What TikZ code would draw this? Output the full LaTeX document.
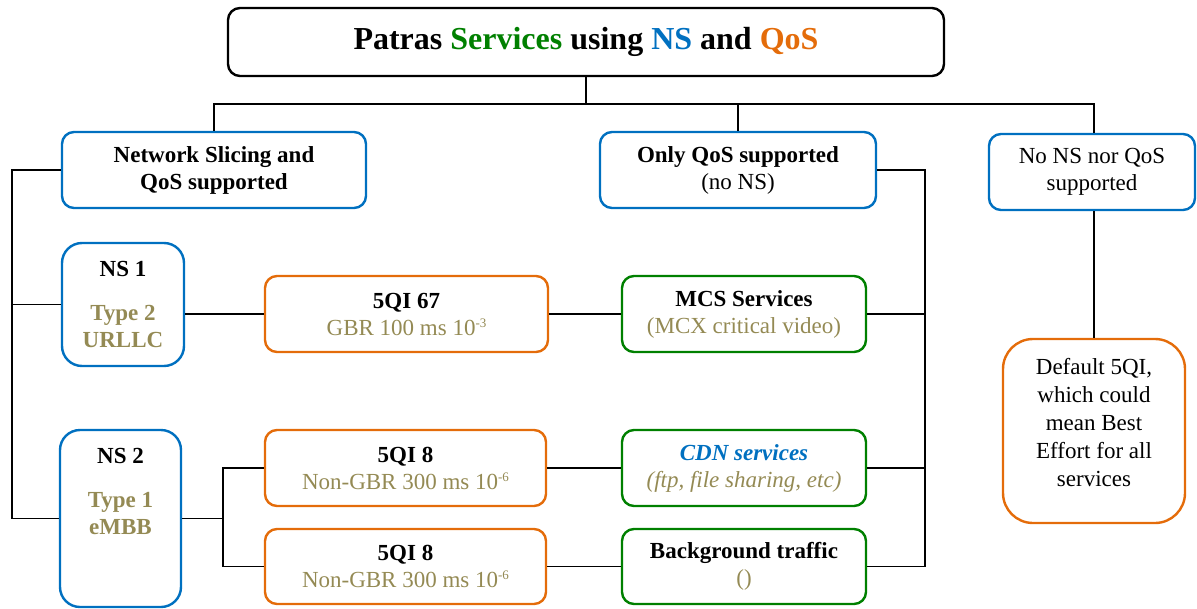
\documentclass[tikz,border=0pt]{standalone}
\usepackage{fontspec}
\setmainfont{Liberation Serif}
\usetikzlibrary{calc}

\definecolor{nsblue}{RGB}{0,112,192}
\definecolor{qosorange}{RGB}{228,108,10}
\definecolor{svcgreen}{RGB}{0,128,0}
\definecolor{olive}{RGB}{148,138,84}

\newcommand{\expo}[1]{\raisebox{8pt}{\fontsize{13}{13}\selectfont #1}}

\tikzset{
  box/.style={draw, rounded corners=12pt, line width=2.4pt, align=center,
    inner sep=0pt, font=\fontsize{23}{27}\selectfont},
  nsbox/.style={box, draw=nsblue},
  qibox/.style={box, draw=qosorange},
  svbox/.style={box, draw=svcgreen},
  txt/.style={align=center, inner sep=0pt, font=\fontsize{23}{27}\selectfont},
  link/.style={draw, line width=1.8pt},
}

\begin{document}
\begin{tikzpicture}[x=1pt, y=-1pt]
\useasboundingbox (0,0) rectangle (1197,608);

% title
\node (title) [box, draw=black, minimum width=716pt, minimum height=68pt,
  font=\fontsize{32}{36}\selectfont\bfseries] at (586,42)
  {Patras \textcolor{svcgreen}{Services} using \textcolor{nsblue}{NS} and \textcolor{qosorange}{QoS}};

% support categories
\node (slice) [nsbox, minimum width=304pt, minimum height=76pt] at (214,170)
  {\textbf{Network Slicing and}\\\textbf{QoS supported}};
\node (onlyqos) [nsbox, minimum width=276pt, minimum height=76pt] at (738,170)
  {\textbf{Only QoS supported}\\(no NS)};
\node (nons) [nsbox, minimum width=206pt, minimum height=76pt] at (1092,172)
  {No NS nor QoS\\supported};

% network slices
\node (ns1) [nsbox, rounded corners=20pt, minimum width=122pt, minimum height=123pt] at (123,304.5)
  {\textbf{NS 1}\\[17pt]\textcolor{olive}{\textbf{Type 2}}\\\textcolor{olive}{\textbf{URLLC}}};
\node (ns2) [nsbox, rounded corners=20pt, minimum width=121pt, minimum height=177pt] at (120.5,518.5) {};
\node (ns2txt) [txt] at (120.5,491.5)
  {\textbf{NS 2}\\[17pt]\textcolor{olive}{\textbf{Type 1}}\\\textcolor{olive}{\textbf{eMBB}}};

% 5QI flows
\node (q67) [qibox, minimum width=283pt, minimum height=76pt] at (406.5,314)
  {\textbf{5QI 67}\\\textcolor{olive}{GBR 100 ms 10\expo{-3}}};
\node (q8a) [qibox, minimum width=281pt, minimum height=76pt] at (405.5,468)
  {\textbf{5QI 8}\\\textcolor{olive}{Non-GBR 300 ms 10\expo{-6}}};
\node (q8b) [qibox, minimum width=281pt, minimum height=75pt] at (405.5,566.5)
  {\textbf{5QI 8}\\\textcolor{olive}{Non-GBR 300 ms 10\expo{-6}}};

% services
\node (mcs) [svbox, minimum width=244pt, minimum height=76pt] at (744,314)
  {\textbf{MCS Services}\\\textcolor{olive}{(MCX critical video)}};
\node (cdn) [svbox, minimum width=244pt, minimum height=76pt] at (744,468)
  {\textcolor{nsblue}{\textbf{\textit{CDN services}}}\\\textcolor{olive}{\textit{(ftp, file sharing, etc)}}};
\node (bg) [svbox, minimum width=244pt, minimum height=75pt] at (744,566.5)
  {\textbf{Background traffic}\\\textcolor{olive}{()}};

% default QoS
\node (dflt) [qibox, rounded corners=30pt, minimum width=182pt, minimum height=184pt] at (1094,431) {};
\node (dflttxt) [txt, font=\fontsize{23}{28}\selectfont] at (1094,423)
  {Default 5QI,\\which could\\mean Best\\Effort for all\\services};

% tree from the title
\draw[link] (title.south) -- ++(0,27) coordinate (hub);
\draw[link] (slice.north) |- (hub) -| (dflt.north |- nons.north);
\draw[link] (onlyqos.north) -- (onlyqos.north |- hub);

% left spine to the slices
\coordinate (lsp) at (12,170);
\draw[link] (slice.west) -- (lsp) |- (ns2.west);
\draw[link] (ns1.west) -- (ns1.west -| lsp);

% slices to flows to services
\draw[link] (ns1.east |- q67.west) -- (q67.west);
\draw[link] (q67.east) -- (mcs.west);
\draw[link] (ns2.east) -- ++(41,0) coordinate (fork);
\draw[link] (q8a.west) -| (fork) |- (q8b.west);
\draw[link] (q8a.east) -- (cdn.west);
\draw[link] (q8b.east) -- (bg.west);

% right spine from the QoS-only branch
\coordinate (rsp) at (925,0);
\draw[link] (onlyqos.east) -| (rsp |- bg.east) -- (bg.east);
\draw[link] (mcs.east) -- (mcs.east -| rsp);
\draw[link] (cdn.east) -- (cdn.east -| rsp);

% no NS nor QoS branch
\draw[link] (dflt.north |- nons.south) -- (dflt.north);
\end{tikzpicture}
\end{document}
